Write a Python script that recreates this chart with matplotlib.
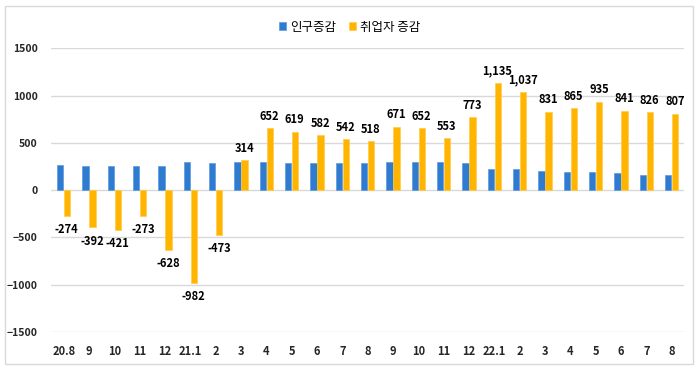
import numpy as np
import matplotlib.pyplot as plt
from matplotlib.patches import Rectangle

plt.rcParams['font.family'] = ['Noto Sans CJK KR', 'DejaVu Sans']

months = ['20.8', '9', '10', '11', '12', '21.1', '2', '3', '4', '5', '6', '7', '8',
          '9', '10', '11', '12', '22.1', '2', '3', '4', '5', '6', '7', '8']
population = [264, 253, 253, 253, 253, 296, 285, 296, 296, 285, 285, 285, 288,
              296, 296, 296, 288, 225, 225, 207, 196, 190, 180, 165, 165]
employed = [-274, -392, -421, -273, -628, -982, -473, 314, 652, 619, 582, 542, 518,
            671, 652, 553, 773, 1135, 1037, 831, 865, 935, 841, 826, 807]
series_names = ['인구증감', '취업자 증감']

blue = '#2E7BD0'
orange = '#FFB400'

fig = plt.figure(figsize=(6.99, 3.71), dpi=100)
ax = fig.add_axes([0.073, 0.105, 0.906, 0.765])

x = np.arange(len(months))
w = 0.25
ax.bar(x - w / 2 - 0.01, population, w, color=blue, edgecolor='#5A9AE0', linewidth=0.5,
       label=series_names[0], zorder=3)
ax.bar(x + w / 2 + 0.01, employed, w, color=orange, edgecolor='#FFCB4A', linewidth=0.5,
       label=series_names[1], zorder=3)

for xi, v in zip(x, employed):
    txt = '{:,}'.format(v)
    if v >= 0:
        ax.annotate(txt, (xi + w / 2, v), xytext=(0, 8.5), textcoords='offset points',
                    ha='center', va='center', fontsize=8, fontweight='bold')
    else:
        ax.annotate(txt, (xi + w / 2, v), xytext=(0, -10), textcoords='offset points',
                    ha='center', va='center', fontsize=8, fontweight='bold')

ax.set_xlim(-0.5, len(months) - 0.5)
ax.set_ylim(-1500, 1500)
ax.set_yticks([-1500, -1000, -500, 0, 500, 1000, 1500])
ax.set_xticks(x)
ax.set_xticklabels(months)
ax.tick_params(length=0, labelsize=8)
ax.tick_params(axis='x', pad=9)
ax.tick_params(axis='y', pad=9.5, labelsize=7.5)
for lab in ax.get_xticklabels() + ax.get_yticklabels():
    lab.set_fontweight('bold')
    lab.set_color('#262626')
ax.grid(axis='y', color='#D9D9D9', linewidth=1, zorder=0)
for s in ax.spines.values():
    s.set_visible(False)

leg = fig.legend(loc='upper center', bbox_to_anchor=(0.5, 0.975), ncol=2, frameon=False,
                 fontsize=9, handlelength=0.6, handleheight=0.6, handletextpad=0.3,
                 columnspacing=1.0)

fig.patches.append(Rectangle((0.007, 0.02), 0.985, 0.965, transform=fig.transFigure,
                             fill=False, edgecolor='#D9D9D9', linewidth=1))

fig.savefig('out.png', dpi=100)
